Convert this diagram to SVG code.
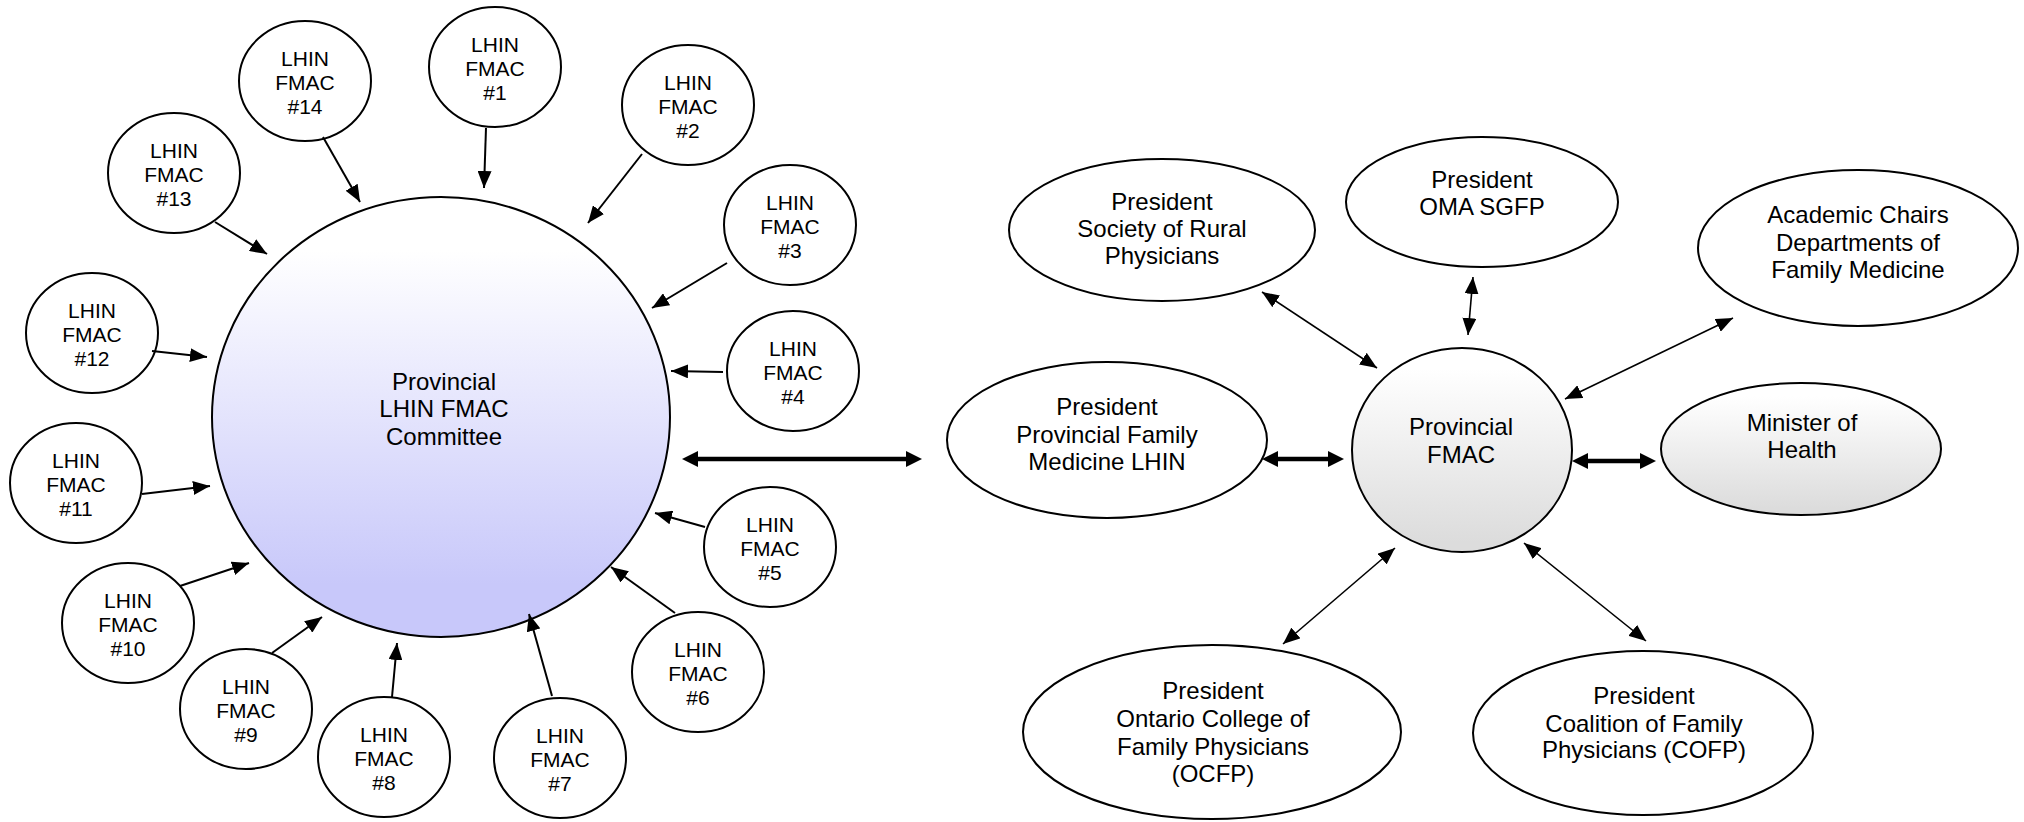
<svg xmlns="http://www.w3.org/2000/svg" width="2024" height="822" viewBox="0 0 2024 822">
<style>
.c{fill:#fff;stroke:#000;stroke-width:2}
.s{font-family:"Liberation Sans",Arial,sans-serif;font-size:21px;text-anchor:middle;fill:#000}
.m{font-family:"Liberation Sans",Arial,sans-serif;font-size:24px;text-anchor:middle;fill:#000}
.a{stroke:#000;stroke-width:2;fill:none;marker-end:url(#ah)}
.b{stroke:#000;stroke-width:1.6;fill:none;marker-start:url(#ah);marker-end:url(#ah)}
.t{stroke:#000;stroke-width:4.5;fill:none;marker-start:url(#aT);marker-end:url(#aT)}
</style>
<defs>
<marker id="ah" markerUnits="userSpaceOnUse" markerWidth="17" markerHeight="14" refX="17" refY="7" orient="auto-start-reverse" viewBox="0 0 17 14"><path d="M0,0 L17,7 L0,14 z" fill="#000"/></marker>
<marker id="aT" markerUnits="userSpaceOnUse" markerWidth="16" markerHeight="16" refX="8" refY="8" orient="auto-start-reverse" viewBox="0 0 16 16"><path d="M0,0 L16,8 L0,16 z" fill="#000"/></marker>
<linearGradient id="gB" x1="0" y1="0" x2="0" y2="1"><stop offset="0.12" stop-color="#ffffff"/><stop offset="0.88" stop-color="#c8c8fa"/></linearGradient>
<linearGradient id="gG" x1="0" y1="0" x2="0" y2="1"><stop offset="0.1" stop-color="#ffffff"/><stop offset="0.95" stop-color="#dcdcdc"/></linearGradient>
</defs>
<rect width="2024" height="822" fill="#fff"/>

<g id="committee">
<ellipse cx="441" cy="417" rx="229" ry="220" fill="url(#gB)" stroke="#000" stroke-width="2"/>
<text class="m" x="444" y="390">Provincial</text>
<text class="m" x="444" y="417">LHIN FMAC</text>
<text class="m" x="444" y="445">Committee</text>
</g>

<g id="fmac1"><ellipse class="c" cx="495" cy="67" rx="66" ry="60"/><text class="s" x="495" y="52">LHIN</text><text class="s" x="495" y="76">FMAC</text><text class="s" x="495" y="100">#1</text></g>
<g id="fmac2"><ellipse class="c" cx="688" cy="105" rx="66" ry="60"/><text class="s" x="688" y="90">LHIN</text><text class="s" x="688" y="114">FMAC</text><text class="s" x="688" y="138">#2</text></g>
<g id="fmac3"><ellipse class="c" cx="790" cy="225" rx="66" ry="60"/><text class="s" x="790" y="210">LHIN</text><text class="s" x="790" y="234">FMAC</text><text class="s" x="790" y="258">#3</text></g>
<g id="fmac4"><ellipse class="c" cx="793" cy="371" rx="66" ry="60"/><text class="s" x="793" y="356">LHIN</text><text class="s" x="793" y="380">FMAC</text><text class="s" x="793" y="404">#4</text></g>
<g id="fmac5"><ellipse class="c" cx="770" cy="547" rx="66" ry="60"/><text class="s" x="770" y="532">LHIN</text><text class="s" x="770" y="556">FMAC</text><text class="s" x="770" y="580">#5</text></g>
<g id="fmac6"><ellipse class="c" cx="698" cy="672" rx="66" ry="60"/><text class="s" x="698" y="657">LHIN</text><text class="s" x="698" y="681">FMAC</text><text class="s" x="698" y="705">#6</text></g>
<g id="fmac7"><ellipse class="c" cx="560" cy="758" rx="66" ry="60"/><text class="s" x="560" y="743">LHIN</text><text class="s" x="560" y="767">FMAC</text><text class="s" x="560" y="791">#7</text></g>
<g id="fmac8"><ellipse class="c" cx="384" cy="757" rx="66" ry="60"/><text class="s" x="384" y="742">LHIN</text><text class="s" x="384" y="766">FMAC</text><text class="s" x="384" y="790">#8</text></g>
<g id="fmac9"><ellipse class="c" cx="246" cy="709" rx="66" ry="60"/><text class="s" x="246" y="694">LHIN</text><text class="s" x="246" y="718">FMAC</text><text class="s" x="246" y="742">#9</text></g>
<g id="fmac10"><ellipse class="c" cx="128" cy="623" rx="66" ry="60"/><text class="s" x="128" y="608">LHIN</text><text class="s" x="128" y="632">FMAC</text><text class="s" x="128" y="656">#10</text></g>
<g id="fmac11"><ellipse class="c" cx="76" cy="483" rx="66" ry="60"/><text class="s" x="76" y="468">LHIN</text><text class="s" x="76" y="492">FMAC</text><text class="s" x="76" y="516">#11</text></g>
<g id="fmac12"><ellipse class="c" cx="92" cy="333" rx="66" ry="60"/><text class="s" x="92" y="318">LHIN</text><text class="s" x="92" y="342">FMAC</text><text class="s" x="92" y="366">#12</text></g>
<g id="fmac13"><ellipse class="c" cx="174" cy="173" rx="66" ry="60"/><text class="s" x="174" y="158">LHIN</text><text class="s" x="174" y="182">FMAC</text><text class="s" x="174" y="206">#13</text></g>
<g id="fmac14"><ellipse class="c" cx="305" cy="81" rx="66" ry="60"/><text class="s" x="305" y="66">LHIN</text><text class="s" x="305" y="90">FMAC</text><text class="s" x="305" y="114">#14</text></g>

<g id="rural"><ellipse class="c" cx="1162" cy="230" rx="153" ry="71"/><text class="m" x="1162" y="210">President</text><text class="m" x="1162" y="237">Society of Rural</text><text class="m" x="1162" y="264">Physicians</text></g>
<g id="oma"><ellipse class="c" cx="1482" cy="202" rx="136" ry="65"/><text class="m" x="1482" y="188">President</text><text class="m" x="1482" y="215">OMA SGFP</text></g>
<g id="academic"><ellipse class="c" cx="1858" cy="248" rx="160" ry="78"/><text class="m" x="1858" y="223">Academic Chairs</text><text class="m" x="1858" y="251">Departments of</text><text class="m" x="1858" y="278">Family Medicine</text></g>
<g id="pfm"><ellipse class="c" cx="1107" cy="440" rx="160" ry="78"/><text class="m" x="1107" y="415">President</text><text class="m" x="1107" y="443">Provincial Family</text><text class="m" x="1107" y="470">Medicine LHIN</text></g>
<g id="fmac"><ellipse cx="1462" cy="450" rx="110" ry="102" fill="url(#gG)" stroke="#000" stroke-width="2"/><text class="m" x="1461" y="435">Provincial</text><text class="m" x="1461" y="463">FMAC</text></g>
<g id="minister"><ellipse cx="1801" cy="449" rx="140" ry="66" fill="url(#gG)" stroke="#000" stroke-width="2"/><text class="m" x="1802" y="431">Minister of</text><text class="m" x="1802" y="458">Health</text></g>
<g id="ocfp"><ellipse class="c" cx="1212" cy="732" rx="189" ry="87"/><text class="m" x="1213" y="699">President</text><text class="m" x="1213" y="727">Ontario College of</text><text class="m" x="1213" y="755">Family Physicians</text><text class="m" x="1213" y="782">(OCFP)</text></g>
<g id="cofp"><ellipse class="c" cx="1643" cy="733" rx="170" ry="82"/><text class="m" x="1644" y="704">President</text><text class="m" x="1644" y="732">Coalition of Family</text><text class="m" x="1644" y="758">Physicians (COFP)</text></g>

<g id="connectors">
<line class="a" x1="486" y1="128" x2="484" y2="188"/>
<line class="a" x1="642" y1="154" x2="588" y2="223"/>
<line class="a" x1="727" y1="263" x2="652" y2="308"/>
<line class="a" x1="723" y1="372" x2="671" y2="371"/>
<line class="a" x1="705" y1="527" x2="655" y2="513"/>
<line class="a" x1="675" y1="613" x2="611" y2="567"/>
<line class="a" x1="552" y1="696" x2="529" y2="614"/>
<line class="a" x1="392" y1="697" x2="397" y2="643"/>
<line class="a" x1="272" y1="653" x2="322" y2="617"/>
<line class="a" x1="180" y1="586" x2="249" y2="563"/>
<line class="a" x1="142" y1="494" x2="210" y2="486"/>
<line class="a" x1="152" y1="351" x2="207" y2="357"/>
<line class="a" x1="215" y1="222" x2="267" y2="254"/>
<line class="a" x1="323" y1="137" x2="360" y2="202"/>
<line class="b" x1="1262" y1="292" x2="1377" y2="368"/>
<line class="b" x1="1473" y1="277" x2="1468" y2="335"/>
<line class="b" x1="1733" y1="318" x2="1565" y2="399"/>
<line class="b" x1="1395" y1="548" x2="1283" y2="644"/>
<line class="b" x1="1524" y1="543" x2="1646" y2="641"/>
<line class="t" x1="690" y1="459" x2="914" y2="459"/>
<line class="t" x1="1270" y1="459" x2="1336" y2="459"/>
<line class="t" x1="1580" y1="461" x2="1648" y2="461"/>
</g>
</svg>
